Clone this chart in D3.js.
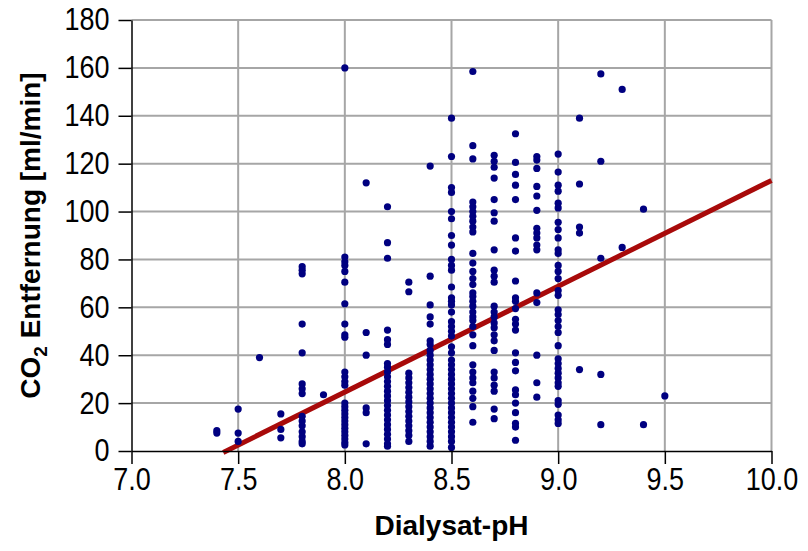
<!DOCTYPE html>
<html>
<head>
<meta charset="utf-8">
<script src="https://cdn.jsdelivr.net/npm/d3@7"></script>
<style>
  html, body { margin: 0; padding: 0; background: #fff; }
  svg { display: block; font-family: "Liberation Sans", Arial, sans-serif; }
</style>
</head>
<body>
<svg id="chart" width="808" height="551"></svg>
<script>
// Dialysate pH levels (x) and the CO2 removal measured at each level (y, ml/min)
const phLevels = [7.4, 7.5, 7.6, 7.7, 7.8, 7.9, 8.0, 8.1, 8.2, 8.3, 8.4, 8.5, 8.6, 8.7, 8.8, 8.9, 9.0, 9.1, 9.2, 9.3, 9.4, 9.5];

const co2_74 = [8.5, 7.5];
const co2_75 = [17.5, 7.5, 4];
const co2_76 = [39];
const co2_77 = [15.5, 9, 5.5];
const co2_78 = [77, 75.5, 74, 53, 41, 28, 26, 24, 14.5, 12.5, 10.5, 8, 6, 4, 3];
const co2_79 = [23.5];
const co2_80 = [160, 81, 79, 77.5, 75, 70.5, 61.5, 53, 48.5, 47.5, 33, 31, 29, 27.5, 20, 18.5, 17, 15.5, 14, 12.5, 11, 9.5, 8, 6.5, 5, 3.5, 2.5];
const co2_81 = [112, 49.5, 40, 18, 16, 3];
const co2_82 = [102, 87, 80.5, 50.5, 46.5, 44.5, 36.5, 35, 33, 31, 29, 27, 25, 23, 21, 19, 17, 15, 13, 11, 9, 7, 5, 3, 2];
const co2_83 = [70.5, 66.5, 32.5, 30.5, 28.5, 26.5, 24.5, 22.5, 20.5, 18.5, 16.5, 14.5, 12.5, 10.5, 8.5, 6.5, 4];
const co2_84 = [119, 73, 61, 56, 53, 46, 44.5, 42, 40, 38, 36, 34, 32, 30, 28, 26, 24, 22, 20, 18, 16, 14, 12, 10, 8, 6, 4, 2];
const co2_85 = [139, 123, 110, 108, 100, 97, 90, 86, 80, 77.5, 75.5, 68.5, 64, 62.5, 61, 58, 54, 52, 50, 48, 43.5, 41, 38, 36, 34, 32, 30, 28, 26, 24, 22, 20, 18, 16, 14, 12, 10, 8, 6, 4, 1.5];
const co2_86 = [158.5, 127.5, 122, 104, 102, 100, 98, 96, 93.5, 91.5, 82.5, 78.5, 75, 72, 69.5, 66, 64.5, 62.5, 60.5, 58, 56, 54.5, 52, 48.5, 44, 36, 33, 30.5, 28.5, 25, 22, 18.5, 12];
const co2_87 = [123.5, 121, 118.5, 114, 105, 99.5, 96, 84, 75.5, 73, 70.5, 60.5, 58, 56, 53.5, 51.5, 48.5, 46, 42, 33, 30.5, 27.5, 25, 17.5, 13.5];
const co2_88 = [132.5, 120.5, 115.5, 111, 105, 89, 83.5, 71, 64, 62.5, 59.5, 55, 53, 50.5, 41, 37, 33.5, 25.5, 23.5, 20, 16, 11.5, 10, 4.5];
const co2_89 = [123, 121.5, 118, 110.5, 106.5, 100.5, 93, 91, 89, 86, 84, 66, 62, 40, 28.5, 22.5];
const co2_90 = [124, 116.5, 111, 108.5, 103.5, 101.5, 95.5, 92.5, 89, 84, 82.5, 77.5, 75, 72, 67, 65, 59, 57, 54.5, 52, 49.5, 44, 38.5, 36.5, 34.5, 32.5, 30.5, 28.5, 27, 21, 19.5, 15, 13, 11.5];
const co2_91 = [139, 111.5, 93.5, 91, 34];
const co2_92 = [157.5, 121, 80.5, 32, 11];
const co2_93 = [151, 85];
const co2_94 = [101, 11];
const co2_95 = [23];

const co2ByLevel = [co2_74, co2_75, co2_76, co2_77, co2_78, co2_79, co2_80, co2_81, co2_82, co2_83, co2_84,
                    co2_85, co2_86, co2_87, co2_88, co2_89, co2_90, co2_91, co2_92, co2_93, co2_94, co2_95];

// Linear fit drawn across the populated pH range
const fitSlope = 44.2;
const fitIntercept = -329;
const fitRange = [7.43, 10.0];

// Axis ticks
const xTicks = [7.0, 7.5, 8.0, 8.5, 9.0, 9.5, 10.0];
const yTicks = [0, 20, 40, 60, 80, 100, 120, 140, 160, 180];

const points = [];
phLevels.forEach((ph, i) => co2ByLevel[i].forEach(v => points.push({ ph, v })));

const svg = d3.select("#chart");
const margin = { top: 20, right: 36.5, bottom: 100, left: 131.5 };
const width = 808 - margin.left - margin.right;
const height = 551 - margin.top - margin.bottom;

const x = d3.scaleLinear().domain([7.0, 10.0]).range([0, width]);
const y = d3.scaleLinear().domain([0, 180]).range([height, 0]);

const g = svg.append("g").attr("transform", `translate(${margin.left},${margin.top})`);

// Grid
g.append("g").selectAll("line").data(xTicks.filter(t => t > 7.0)).join("line")
  .attr("x1", d => x(d)).attr("x2", d => x(d)).attr("y1", 0).attr("y2", height)
  .attr("stroke", "#a6a6a6").attr("stroke-width", 2);
g.append("g").selectAll("line").data(yTicks.filter(t => t > 0)).join("line")
  .attr("x1", 0).attr("x2", width).attr("y1", d => y(d)).attr("y2", d => y(d))
  .attr("stroke", "#a6a6a6").attr("stroke-width", 2);

// Fit line
const fitLine = d3.line().x(d => x(d)).y(d => y(fitSlope * d + fitIntercept));
g.append("path").datum(fitRange).attr("d", fitLine)
  .attr("fill", "none").attr("stroke", "#a80a0a").attr("stroke-width", 5);

// Measurements
g.append("g").selectAll("circle").data(points).join("circle")
  .attr("cx", d => x(d.ph)).attr("cy", d => y(d.v)).attr("r", 3.6)
  .attr("fill", "#000080");

// Axes
const xAxis = d3.axisBottom(x).tickValues(xTicks).tickFormat(d3.format(".1f"))
  .tickSizeInner(13).tickSizeOuter(0).tickPadding(4);
const yAxis = d3.axisLeft(y).tickValues(yTicks).tickFormat(d3.format("d"))
  .tickSizeInner(13).tickSizeOuter(0).tickPadding(9);

const xg = g.append("g").attr("transform", `translate(0,${height})`).call(xAxis);
const yg = g.append("g").call(yAxis);
[xg, yg].forEach(a => {
  a.select(".domain").attr("stroke", "#000").attr("stroke-width", 1.5);
  a.selectAll(".tick line").attr("stroke", "#000").attr("stroke-width", 1.5);
  a.selectAll(".tick text").attr("fill", "#000").style("font-size", "31px")
    .style("font-family", "'Liberation Sans', Arial, sans-serif")
    .each(function () {
      // slightly condensed numerals
      const len = this.getComputedTextLength();
      d3.select(this).attr("textLength", len * 0.87).attr("lengthAdjust", "spacingAndGlyphs");
    });
});

// Axis titles
svg.append("text")
  .attr("x", margin.left + width / 2).attr("y", 535)
  .attr("text-anchor", "middle").style("font-size", "28px").style("font-weight", "bold")
  .text("Dialysat-pH");

const yTitle = svg.append("text")
  .attr("transform", `translate(40,${margin.top + height / 2}) rotate(-90)`)
  .attr("text-anchor", "middle").style("font-size", "28px").style("font-weight", "bold");
yTitle.append("tspan").text("CO");
yTitle.append("tspan").attr("dy", 7).style("font-size", "19px").text("2");
yTitle.append("tspan").attr("dy", -7).text(" Entfernung [ml/min]");
</script>
</body>
</html>
